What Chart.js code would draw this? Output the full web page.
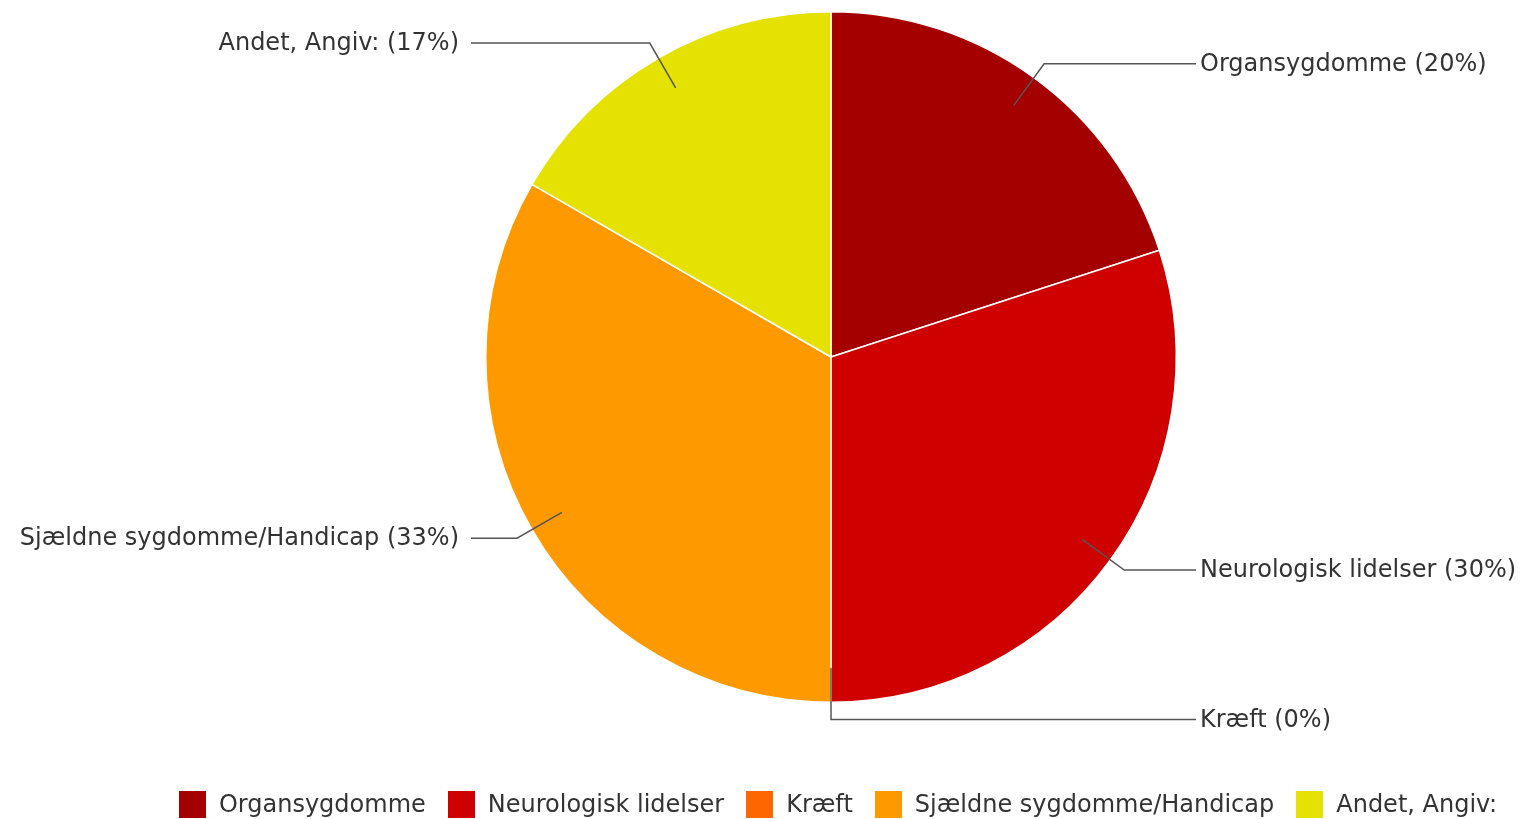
<!DOCTYPE html>
<html>
<head>
<meta charset="utf-8">
<script src="https://cdn.jsdelivr.net/npm/chart.js@4.4.1/dist/chart.umd.min.js"></script>
<style>
	html, body { margin: 0; padding: 0; background: #fff; }
	#wrap { position: relative; width: 1525px; height: 819px; }
	#pieChart { position: absolute; left: 0; top: 0; }
	#pieLegend {
		position: absolute; left: 0; top: 790px; width: 1525px;
		font-family: "DejaVu Sans", Verdana, sans-serif; font-size: 24px; color: #333;
	}
</style>
</head>
<body>
<div id="wrap">
	<canvas id="pieChart" width="1525" height="819"></canvas>
	<div id="pieLegend"></div>
</div>
<script>
const categories = ["Organsygdomme", "Neurologisk lidelser", "Kræft", "Sjældne sygdomme/Handicap", "Andet, Angiv:"];
const counts = [6, 9, 0, 10, 5];
const sliceColors = ["#a50000", "#cf0000", "#ff6600", "#ff9900", "#e5e100"];

const total = counts.reduce(function (a, b) { return a + b; }, 0);
const percents = counts.map(function (v) { return Math.round((v / total) * 100); });

// Etiketter med knæklinjer uden for lagkagen
const calloutPlugin = {
	id: "callouts",
	afterDraw: function (chart) {
		const ctx = chart.ctx;
		const area = chart.chartArea;
		const arcs = chart.getDatasetMeta(0).data;
		ctx.save();
		ctx.font = '24px "DejaVu Sans", Verdana, sans-serif';
		ctx.textBaseline = "middle";
		ctx.strokeStyle = "#555";
		ctx.lineWidth = 1.5;
		arcs.forEach(function (arc, i) {
			const p = arc.getProps(["x", "y", "startAngle", "endAngle", "outerRadius"], true);
			const mid = (p.startAngle + p.endAngle) / 2;
			const r = p.outerRadius;
			const x0 = p.x + Math.cos(mid) * r * 0.9;
			const y0 = p.y + Math.sin(mid) * r * 0.9;
			const x1 = p.x + Math.cos(mid) * r * 1.05;
			const y1 = p.y + Math.sin(mid) * r * 1.05;
			const right = Math.cos(mid) >= 0;
			const x2 = right ? area.right + 19 : area.left - 14;
			ctx.beginPath();
			ctx.moveTo(x0, y0);
			ctx.lineTo(x1, y1);
			ctx.lineTo(x2, y1);
			ctx.stroke();
			ctx.fillStyle = "#333";
			ctx.textAlign = right ? "left" : "right";
			ctx.fillText(categories[i] + " (" + percents[i] + "%)", right ? x2 + 4 : x2 - 12, y1 + 1);
		});
		ctx.restore();
	},
};

const chart = new Chart(document.getElementById("pieChart").getContext("2d"), {
	type: "pie",
	data: {
		labels: categories,
		datasets: [
			{
				data: counts,
				backgroundColor: sliceColors,
				borderColor: "#fff",
				borderWidth: 1.5,
				hoverOffset: 0,
			},
		],
	},
	options: {
		responsive: false,
		animation: false,
		layout: {
			padding: { top: 11, bottom: 116, left: 485, right: 348 },
		},
		plugins: {
			legend: { display: false },
			title: { display: false },
			tooltip: { enabled: false },
		},
	},
	plugins: [calloutPlugin],
});

// Legenden bygges manuelt
let legendHtml = '<div style="display:flex;justify-content:center;gap:22px;padding-left:151px;">';
categories.forEach(function (label, i) {
	legendHtml +=
		'<div style="display:flex;align-items:center;">' +
		'<span style="display:inline-block;width:27px;height:27px;background:' +
		sliceColors[i] +
		';margin-right:13px;"></span>' +
		"<span>" + label + "</span>" +
		"</div>";
});
legendHtml += "</div>";
document.getElementById("pieLegend").innerHTML = legendHtml;
</script>
</body>
</html>
